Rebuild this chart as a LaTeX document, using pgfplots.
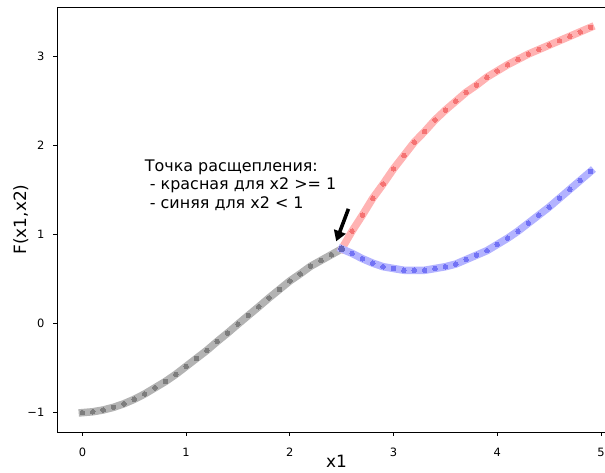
\documentclass[border=0pt]{standalone}
\usepackage{fontspec}
\setmainfont{DejaVu Sans}
\usepackage{pgfplots}
\pgfplotsset{compat=1.18}
\usetikzlibrary{arrows.meta}
\definecolor{grayband}{RGB}{179,179,179}
\definecolor{graydot}{RGB}{125,125,125}
\definecolor{redband}{RGB}{255,179,179}
\definecolor{reddot}{RGB}{245,115,115}
\definecolor{blueband}{RGB}{179,179,255}
\definecolor{bluedot}{RGB}{115,115,245}
\pgfplotsset{
  branchband/.style={color=#1, line width=7.5bp, line cap=rect, line join=round, mark=none},
  branchdots/.style={only marks, mark=*, mark size=2.3bp, color=#1, mark options={fill=#1, draw=#1, line width=0pt}},
}
\begin{document}
\begin{tikzpicture}
\begin{axis}[
  scale only axis,
  width=559bp, height=424bp,
  xmin=-0.245, xmax=5.145,
  ymin=-1.2175, ymax=3.5475,
  axis line style={line width=1bp, black},
  tick pos=left,
  tick align=outside,
  major tick length=3.5bp,
  every tick/.style={black, line width=0.8bp},
  xtick={0,1,2,3,4,5},
  xticklabels={0,1,2,3,4,5},
  ytick={-1,0,1,2,3},
  yticklabels={−1,0,1,2,3},
  xticklabel style={anchor=base, inner sep=0pt, yshift=-21bp, font=\fontsize{11.5}{13}\selectfont},
  yticklabel style={anchor=east, inner sep=0pt, xshift=-9bp, font=\fontsize{11.5}{13}\selectfont},
  xlabel={x1},
  ylabel={F(x1,x2)},
  xlabel style={at={(axis cs:2.45,-1.618)}, anchor=base, inner sep=0pt, font=\fontsize{17}{20}\selectfont},
  ylabel style={at={(axis cs:-0.52,1.17)}, anchor=south, rotate=0, inner sep=0pt, font=\fontsize{17}{20}\selectfont},
  clip=false,
]
% grey branch
\addplot[branchband=grayband] coordinates {
(0,-1.00) (0.1,-0.99) (0.2,-0.97) (0.3,-0.94) (0.4,-0.90) (0.5,-0.85) (0.6,-0.79) (0.7,-0.72) (0.8,-0.65) (0.9,-0.57)
(1.0,-0.48) (1.1,-0.39) (1.2,-0.30) (1.3,-0.20) (1.4,-0.105) (1.5,-0.005) (1.6,0.093) (1.7,0.19) (1.8,0.29) (1.9,0.385)
(2.0,0.48) (2.1,0.56) (2.2,0.645) (2.3,0.71) (2.4,0.775) (2.5,0.84)};
% red branch
\addplot[branchband=redband] coordinates {
(2.5,0.84) (2.6,1.04) (2.7,1.22) (2.8,1.41) (2.9,1.57) (3.0,1.74) (3.1,1.89) (3.2,2.04) (3.3,2.16) (3.4,2.29)
(3.5,2.40) (3.6,2.50) (3.7,2.60) (3.8,2.68) (3.9,2.77) (4.0,2.84) (4.1,2.91) (4.2,2.97) (4.3,3.03) (4.4,3.08)
(4.5,3.13) (4.6,3.18) (4.7,3.23) (4.8,3.28) (4.9,3.33)};
% blue branch
\addplot[branchband=blueband] coordinates {
(2.5,0.84) (2.6,0.79) (2.7,0.73) (2.8,0.68) (2.9,0.64) (3.0,0.62) (3.1,0.60) (3.2,0.60) (3.3,0.60) (3.4,0.62)
(3.5,0.64) (3.6,0.67) (3.7,0.72) (3.8,0.77) (3.9,0.82) (4.0,0.89) (4.1,0.96) (4.2,1.04) (4.3,1.13) (4.4,1.22)
(4.5,1.31) (4.6,1.41) (4.7,1.51) (4.8,1.61) (4.9,1.71)};
% dots
\addplot[branchdots=graydot] coordinates {
(0,-1.00) (0.1,-0.99) (0.2,-0.97) (0.3,-0.94) (0.4,-0.90) (0.5,-0.85) (0.6,-0.79) (0.7,-0.72) (0.8,-0.65) (0.9,-0.57)
(1.0,-0.48) (1.1,-0.39) (1.2,-0.30) (1.3,-0.20) (1.4,-0.105) (1.5,-0.005) (1.6,0.093) (1.7,0.19) (1.8,0.29) (1.9,0.385)
(2.0,0.48) (2.1,0.56) (2.2,0.645) (2.3,0.71) (2.4,0.775)};
\addplot[branchdots=reddot] coordinates {
(2.6,1.04) (2.7,1.22) (2.8,1.41) (2.9,1.57) (3.0,1.74) (3.1,1.89) (3.2,2.04) (3.3,2.16) (3.4,2.29)
(3.5,2.40) (3.6,2.50) (3.7,2.60) (3.8,2.68) (3.9,2.77) (4.0,2.84) (4.1,2.91) (4.2,2.97) (4.3,3.03) (4.4,3.08)
(4.5,3.13) (4.6,3.18) (4.7,3.23) (4.8,3.28) (4.9,3.33)};
\addplot[branchdots=bluedot] coordinates {
(2.6,0.79) (2.7,0.73) (2.8,0.68) (2.9,0.64) (3.0,0.62) (3.1,0.60) (3.2,0.60) (3.3,0.60) (3.4,0.62)
(3.5,0.64) (3.6,0.67) (3.7,0.72) (3.8,0.77) (3.9,0.82) (4.0,0.89) (4.1,0.96) (4.2,1.04) (4.3,1.13) (4.4,1.22)
(4.5,1.31) (4.6,1.41) (4.7,1.51) (4.8,1.61) (4.9,1.71)};
% split point: grey, red and blue dots overlapping
\addplot[only marks, mark=*, mark size=3bp, color=blue!55!black!60, mark options={fill=blue!55!black!60, draw=blue!55!black!60, line width=0pt}] coordinates {(2.5,0.84)};
% annotation
\draw[black, line width=3.6bp, -{Triangle[width=12bp,length=10.5bp]}] (axis cs:2.565,1.29) -- (axis cs:2.447,0.925);
\node[anchor=base west, inner sep=0pt, font=\fontsize{16}{19}\selectfont] at (axis cs:0.6,1.711) {Точка расщепления:};
\node[anchor=base west, inner sep=0pt, font=\fontsize{16}{19}\selectfont] at (axis cs:0.6,1.503) {\hspace*{0.318em}- красная для x2 >= 1};
\node[anchor=base west, inner sep=0pt, font=\fontsize{16}{19}\selectfont] at (axis cs:0.6,1.295) {\hspace*{0.318em}- синяя для x2 < 1};
\end{axis}
\pgfresetboundingbox
\path ([xshift=-57bp,yshift=-41bp]current axis.south west) rectangle ([xshift=548bp,yshift=432bp]current axis.south west);
\end{tikzpicture}
\end{document}
